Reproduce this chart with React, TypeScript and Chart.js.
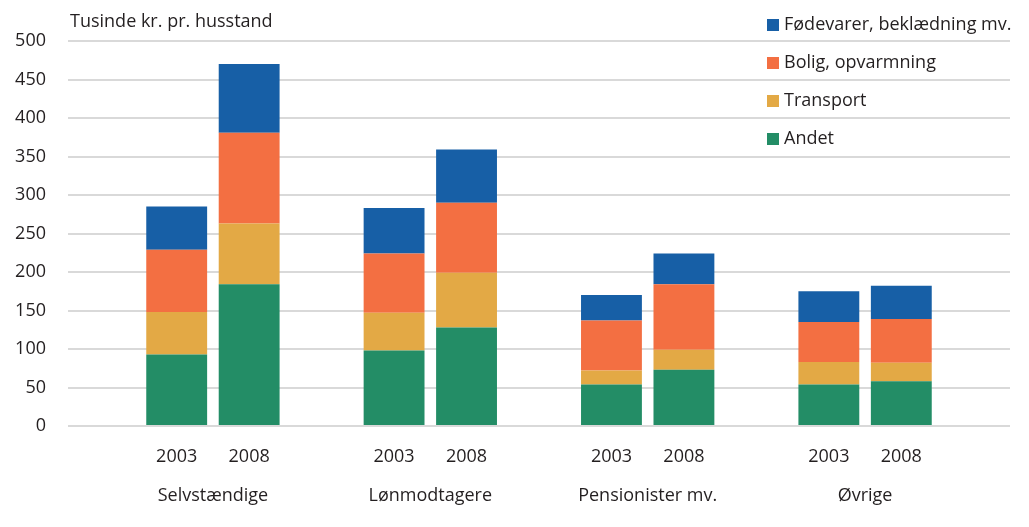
import React, { useEffect, useRef } from "react";
import { Chart, registerables } from "chart.js";

Chart.register(...registerables);

const categories = ["", "2003", "2008", "", "2003", "2008", "", "2003", "2008", "", "2003", "2008", ""];
const groups = ["Selvstændige", "Lønmodtagere", "Pensionister mv.", "Øvrige"];
const andet = [null, 93, 184, null, 98, 128, null, 54, 73, null, 54, 58, null];
const transport = [null, 55, 79, null, 49, 71, null, 18, 26, null, 29, 24, null];
const bolig = [null, 81, 118, null, 77, 91, null, 65, 85, null, 52, 57, null];
const fodevarer = [null, 56, 89, null, 59, 69, null, 33, 40, null, 40, 43, null];
const yTicks = [0, 50, 100, 150, 200, 250, 300, 350, 400, 450, 500];

const FONT = "'Open Sans', 'Liberation Sans', Arial, sans-serif";
const TEXT = "#231f20";

const customText = {
  id: "customText",
  afterDraw(chart: any) {
    const ctx = chart.ctx;
    const x = chart.scales.x;
    ctx.save();
    ctx.fillStyle = TEXT;
    ctx.font = `18px ${FONT}`;
    ctx.textAlign = "left";
    ctx.textBaseline = "middle";
    ctx.fillText("Tusinde kr. pr. husstand", 70, 22);
    ctx.textAlign = "center";
    groups.forEach((g, i) => {
      const a = x.getPixelForValue(1 + i * 3);
      const b = x.getPixelForValue(2 + i * 3);
      ctx.fillText(g, (a + b) / 2, 496);
    });
    const items = [...chart.data.datasets].reverse();
    ctx.textAlign = "left";
    items.forEach((ds: any, i: number) => {
      const cy = 25 + i * 38;
      ctx.fillStyle = ds.backgroundColor;
      ctx.fillRect(767, cy - 6, 12, 12);
      ctx.fillStyle = TEXT;
      ctx.fillText(ds.label, 784, cy);
    });
    ctx.restore();
  },
};

export default function App() {
  const ref = useRef<HTMLCanvasElement>(null);
  useEffect(() => {
    const chart = new Chart(ref.current!, {
      type: "bar",
      data: {
        labels: categories,
        datasets: [
          { label: "Andet", data: andet, backgroundColor: "#238d66" },
          { label: "Transport", data: transport, backgroundColor: "#e3a945" },
          { label: "Bolig, opvarmning", data: bolig, backgroundColor: "#f36f42" },
          { label: "Fødevarer, beklædning mv.", data: fodevarer, backgroundColor: "#175fa6" },
        ],
      },
      options: {
        animation: false,
        responsive: true,
        maintainAspectRatio: false,
        layout: { padding: { top: 41, right: 19, left: 0, bottom: 0 } },
        plugins: { legend: { display: false }, tooltip: { enabled: false } },
        datasets: { bar: { barPercentage: 0.84, categoryPercentage: 1 } },
        scales: {
          x: {
            stacked: true,
            grid: { display: false },
            border: { display: false },
            ticks: { color: TEXT, font: { size: 18, family: FONT }, padding: 12, maxRotation: 0, autoSkip: false },
            afterFit: (s: any) => { s.height = 101; },
          },
          y: {
            stacked: true,
            min: 0,
            max: 500,
            afterBuildTicks: (s: any) => { s.ticks = yTicks.map((v) => ({ value: v })); },
            grid: { color: "#d9d9d9", lineWidth: 2, drawTicks: false },
            border: { display: false },
            ticks: { color: TEXT, font: { size: 18, family: FONT }, padding: 22 },
            afterFit: (s: any) => { s.width = 68; },
          },
        },
      },
      plugins: [customText],
    });
    return () => chart.destroy();
  }, []);
  return (
    <div style={{ position: "fixed", left: 0, top: 0, width: 1029, height: 527, background: "#fff" }}>
      <canvas ref={ref} />
    </div>
  );
}
